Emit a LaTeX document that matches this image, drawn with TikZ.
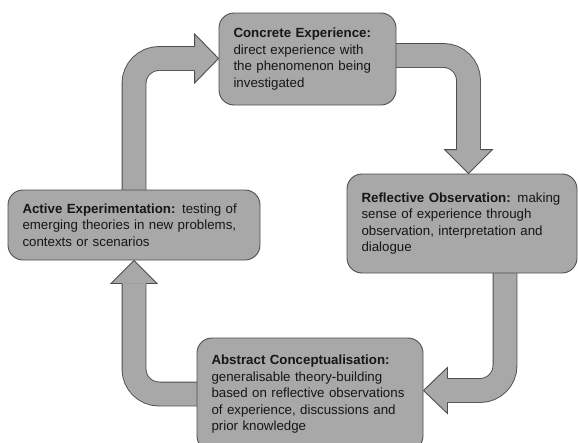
\documentclass[tikz,border=0pt]{standalone}
\usepackage{fontspec}
\setmainfont{Liberation Sans}
\usetikzlibrary{calc}
\pgfdeclarelayer{arrows}
\pgfsetlayers{arrows,main}
\definecolor{boxgray}{RGB}{168,168,168}
\definecolor{edgegray}{RGB}{78,78,78}
\definecolor{inkgray}{RGB}{22,22,22}
\begin{document}
\begin{tikzpicture}[x=1pt,y=-1pt,
  stage/.style={draw=edgegray, fill=boxgray, line width=0.9pt, rounded corners=15pt,
    align=left, inner xsep=14.5pt, inner ysep=0pt, text=inkgray,
    font=\fontsize{13.3}{16.5}\selectfont},
  shaft/.style={draw=edgegray, line width=0.9pt, double=boxgray, double distance=23pt,
    rounded corners=25pt},
  headfill/.style={fill=boxgray},
  headline/.style={draw=edgegray, line width=0.9pt, line join=miter}]
\clip (0,0) rectangle (578,442);

% the four stages of the cycle
\node[stage, minimum width=177pt, minimum height=92pt, text width=148pt] (ce) at (307.5,59)
  {\textbf{Concrete Experience:}\\direct experience with\\the phenomenon being\\investigated};
\node[stage, minimum width=230pt, minimum height=99pt, text width=201pt] (ro) at (462,223.5)
  {\textbf{Reflective Observation:} making\\sense of experience through\\observation, interpretation and\\dialogue};
\node[stage, minimum width=252pt, minimum height=70pt, text width=223pt] (ae) at (134,225)
  {\textbf{Active Experimentation:} testing of\\emerging theories in new problems,\\contexts or scenarios};
\node[stage, minimum width=226pt, minimum height=113pt, text width=197pt] (ac) at (310,394.5)
  {\textbf{Abstract Conceptualisation:}\\generalisable theory-building\\based on reflective observations\\of experience, discussions and\\prior knowledge};

% arrow tips touching the next stage
\coordinate (t1) at (468.5,0 |- ro.north);
\coordinate (t2) at (ac.east |- 0,390.5);
\coordinate (t3) at (ae.south);
\coordinate (t4) at (ce.west |- 0,58.5);

\begin{pgfonlayer}{arrows}
\fill[white] (0,0) rectangle (578,442);
% Concrete -> Reflective
\draw[shaft] ($(ce.east |- 0,55.5)+(-3,0)$) -| ($(t1)+(0,-23)$);
\fill[headfill] (t1) -- ++(-24,-24) -- ++(48,0) -- cycle;
\draw[headline] ($(t1)+(-12,-24)$) -- ++(-12,0) -- (t1) -- ++(24,-24) -- ++(-12,0);

% Reflective -> Abstract
\draw[shaft] ($(505,0 |- ro.south)+(0,-3)$) |- ($(t2)+(23,0)$);
\fill[headfill] (t2) -- ++(24,-23) -- ++(0,46) -- cycle;
\draw[headline] ($(t2)+(24,-12)$) -- ++(0,-11) -- (t2) -- ++(24,23) -- ++(0,-11);

% Abstract -> Active
\draw[shaft] ($(ac.west |- 0,394)+(3,0)$) -| ($(t3)+(0,23)$);
\fill[headfill] (t3) -- ++(-23,23) -- ++(46,0) -- cycle;
\draw[headline] ($(t3)+(-12,23)$) -- ++(-11,0) -- (t3) -- ++(23,23) -- ++(-11,0);

% Active -> Concrete
\draw[shaft] ($(ae.north)+(0,3)$) |- ($(t4)+(-23,0)$);
\fill[headfill] (t4) -- ++(-24,-24.5) -- ++(0,49) -- cycle;
\draw[headline] ($(t4)+(-24,-12)$) -- ++(0,-12.5) -- (t4) -- ++(-24,24.5) -- ++(0,-12.5);
\end{pgfonlayer}
\end{tikzpicture}
\end{document}
